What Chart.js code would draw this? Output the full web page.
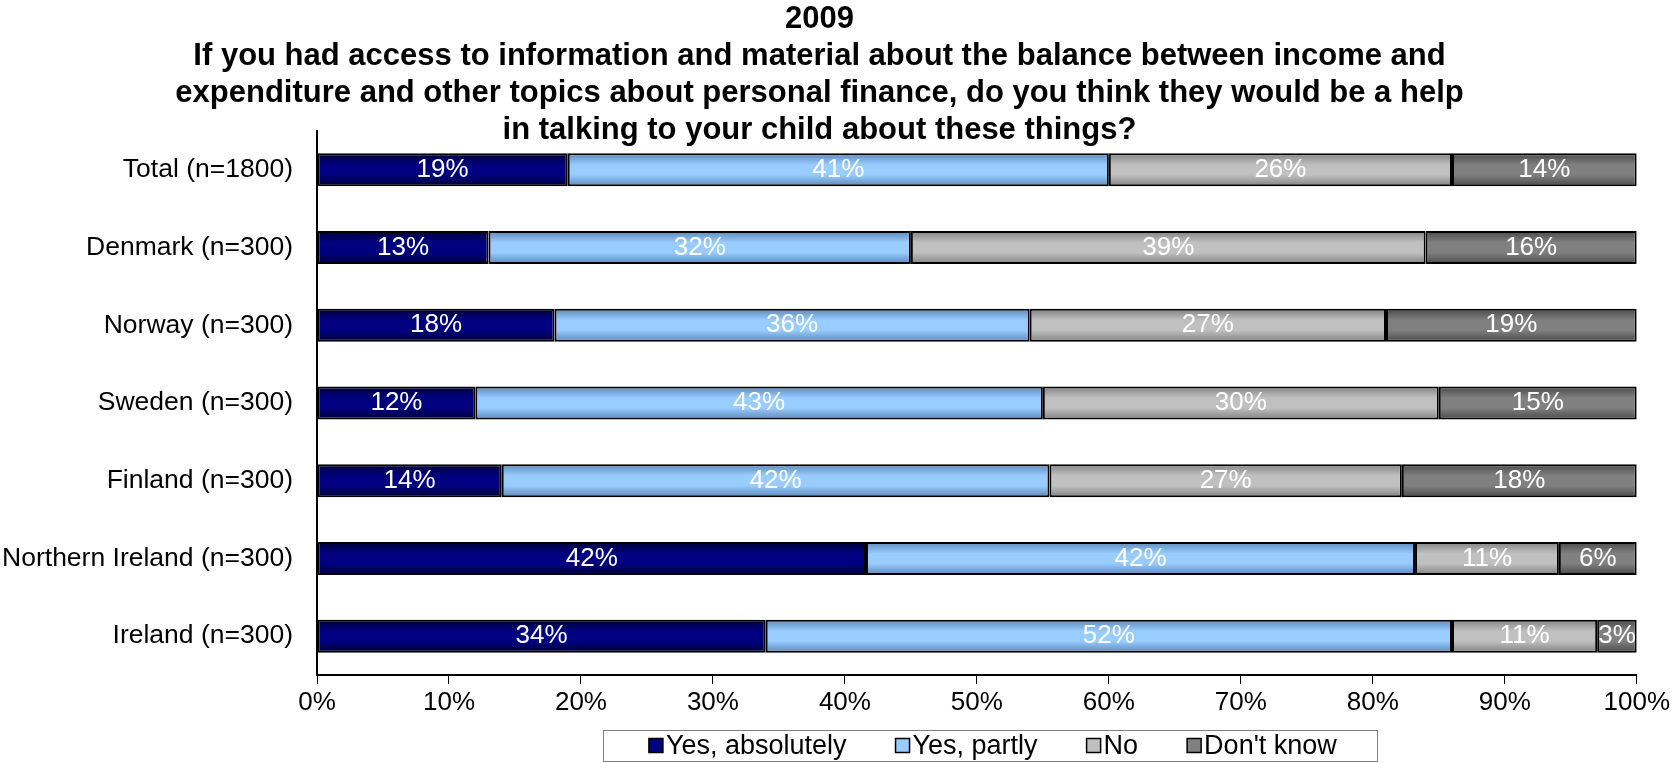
<!DOCTYPE html>
<html>
<head>
<meta charset="utf-8">
<script src="https://cdn.jsdelivr.net/npm/chart.js@4.4.1/dist/chart.umd.min.js"></script>
<style>
    html, body { margin: 0; padding: 0; background: #fff; }
    #wrap { position: relative; width: 1673px; height: 763px; }
</style>
</head>
<body>
<div id="wrap"><canvas id="chart"></canvas></div>
<script>
// 数据
const titleLines = [
    '2009',
    'If you had access to information and material about the balance between income and',
    'expenditure and other topics about personal finance, do you think they would be a help',
    'in talking to your child about these things?'
];
const categories = [
    'Total (n=1800)', 'Denmark (n=300)', 'Norway (n=300)', 'Sweden (n=300)',
    'Finland (n=300)', 'Northern Ireland (n=300)', 'Ireland (n=300)'
];
const seriesNames = ['Yes, absolutely', 'Yes, partly', 'No', "Don't know"];
const yesAbsolutely = [19, 13, 18, 12, 14, 41.6, 34];
const yesPartly     = [41, 32, 36, 43, 41.5, 41.6, 52];
const no            = [26, 39, 27, 30, 26.7, 10.9, 11];
const dontKnow      = [14, 16, 19, 15, 17.8, 5.9, 3];
const xTicks = [0, 10, 20, 30, 40, 50, 60, 70, 80, 90, 100];

const FONT = "'Liberation Sans', Arial, sans-serif";
const BAR_PCT = 0.425;
// 基色 + 边缘暗色
const palette = [
    { base: '#000080', edge: '#000038' },
    { base: '#99ccff', edge: '#5b88b8' },
    { base: '#c0c0c0', edge: '#828282' },
    { base: '#808080', edge: '#4a4a4a' }
];

// 柱子上下渐变
function shade(p) {
    return (c) => {
        const chart = c.chart;
        const area = chart.chartArea;
        if (!area || c.type !== 'data' || !chart.scales.y) return p.base;
        const y = chart.scales.y.getPixelForValue(c.dataIndex);
        const h = (area.bottom - area.top) / categories.length * BAR_PCT;
        const g = chart.ctx.createLinearGradient(0, y - h / 2, 0, y + h / 2);
        g.addColorStop(0, p.edge);
        g.addColorStop(0.35, p.base);
        g.addColorStop(0.65, p.base);
        g.addColorStop(1, p.edge);
        return g;
    };
}

const seriesData = [yesAbsolutely, yesPartly, no, dontKnow];
const datasets = seriesNames.map((name, i) => ({
    label: name,
    data: seriesData[i],
    backgroundColor: shade(palette[i]),
    borderColor: '#000',
    borderWidth: 2,
    borderSkipped: false,
    barPercentage: BAR_PCT,
    categoryPercentage: 1
}));

// 段内白色百分比
const valueLabels = {
    id: 'valueLabels',
    afterDatasetsDraw(chart) {
        const ctx = chart.ctx;
        ctx.save();
        ctx.fillStyle = '#fff';
        ctx.font = `26px ${FONT}`;
        ctx.textAlign = 'center';
        ctx.textBaseline = 'middle';
        chart.data.datasets.forEach((ds, di) => {
            chart.getDatasetMeta(di).data.forEach((bar, i) => {
                const { x, base, y } = bar.getProps(['x', 'base', 'y'], true);
                ctx.fillText(Math.round(ds.data[i]) + '%', (x + base) / 2, y);
            });
        });
        ctx.restore();
    }
};

// 底部带边框的图例
const boxLegend = {
    id: 'boxLegend',
    afterDraw(chart) {
        const ctx = chart.ctx;
        const area = chart.chartArea;
        ctx.save();
        ctx.font = `27px ${FONT}`;
        const sq = 14, gap = 3, spacing = 49, padX = 46;
        const widths = seriesNames.map(n => ctx.measureText(n).width);
        const total = widths.reduce((a, w) => a + sq + gap + w, 0) + spacing * (seriesNames.length - 1);
        const cx = (area.left + area.right) / 2 + 16;
        const cy = chart.height - 17.5;
        let x = cx - total / 2;

        ctx.strokeStyle = '#808080';
        ctx.lineWidth = 1;
        ctx.strokeRect(Math.round(x - padX) + 0.5, Math.round(cy - 15.5) + 0.5, Math.round(total + padX * 2 - 6), 31);

        ctx.textBaseline = 'middle';
        ctx.textAlign = 'left';
        seriesNames.forEach((n, i) => {
            ctx.fillStyle = palette[i].base;
            ctx.fillRect(x, cy - sq / 2, sq, sq);
            ctx.strokeStyle = '#000';
            ctx.lineWidth = 1.5;
            ctx.strokeRect(x, cy - sq / 2, sq, sq);
            ctx.fillStyle = '#000';
            ctx.fillText(n, x + sq + gap, cy + 1);
            x += sq + gap + widths[i] + spacing;
        });
        ctx.restore();
    }
};

new Chart(document.getElementById('chart'), {
    type: 'bar',
    data: { labels: categories, datasets },
    plugins: [valueLabels, boxLegend],
    options: {
        indexAxis: 'y',
        responsive: true,
        maintainAspectRatio: false,
        animation: false,
        layout: { padding: { left: 0, right: 34, top: 0, bottom: 43 } },
        scales: {
            x: {
                stacked: true,
                min: 0,
                max: 100,
                afterBuildTicks: (s) => { s.ticks = xTicks.map(v => ({ value: v })); },
                afterFit: (s) => { s.height = 45; },
                ticks: {
                    color: '#000',
                    font: { family: FONT, size: 26 },
                    padding: 3,
                    maxRotation: 0,
                    callback: (v) => v + '%'
                },
                grid: { drawOnChartArea: false, drawTicks: true, tickLength: 9, color: '#000', lineWidth: 1 },
                border: { display: true, color: '#000', width: 2 }
            },
            y: {
                stacked: true,
                afterFit: (s) => { s.width = 317; },
                ticks: {
                    color: '#000',
                    font: { family: FONT, size: 26.5 },
                    padding: 24
                },
                grid: { display: false, drawTicks: false },
                border: { display: true, color: '#000', width: 2 }
            }
        },
        plugins: {
            legend: { display: false },
            tooltip: { enabled: false },
            title: {
                display: true,
                text: titleLines,
                color: '#000',
                font: { family: FONT, size: 31, weight: 'bold', lineHeight: 37 / 31 },
                padding: { top: 1, bottom: -18 }
            }
        }
    }
});
</script>
</body>
</html>
